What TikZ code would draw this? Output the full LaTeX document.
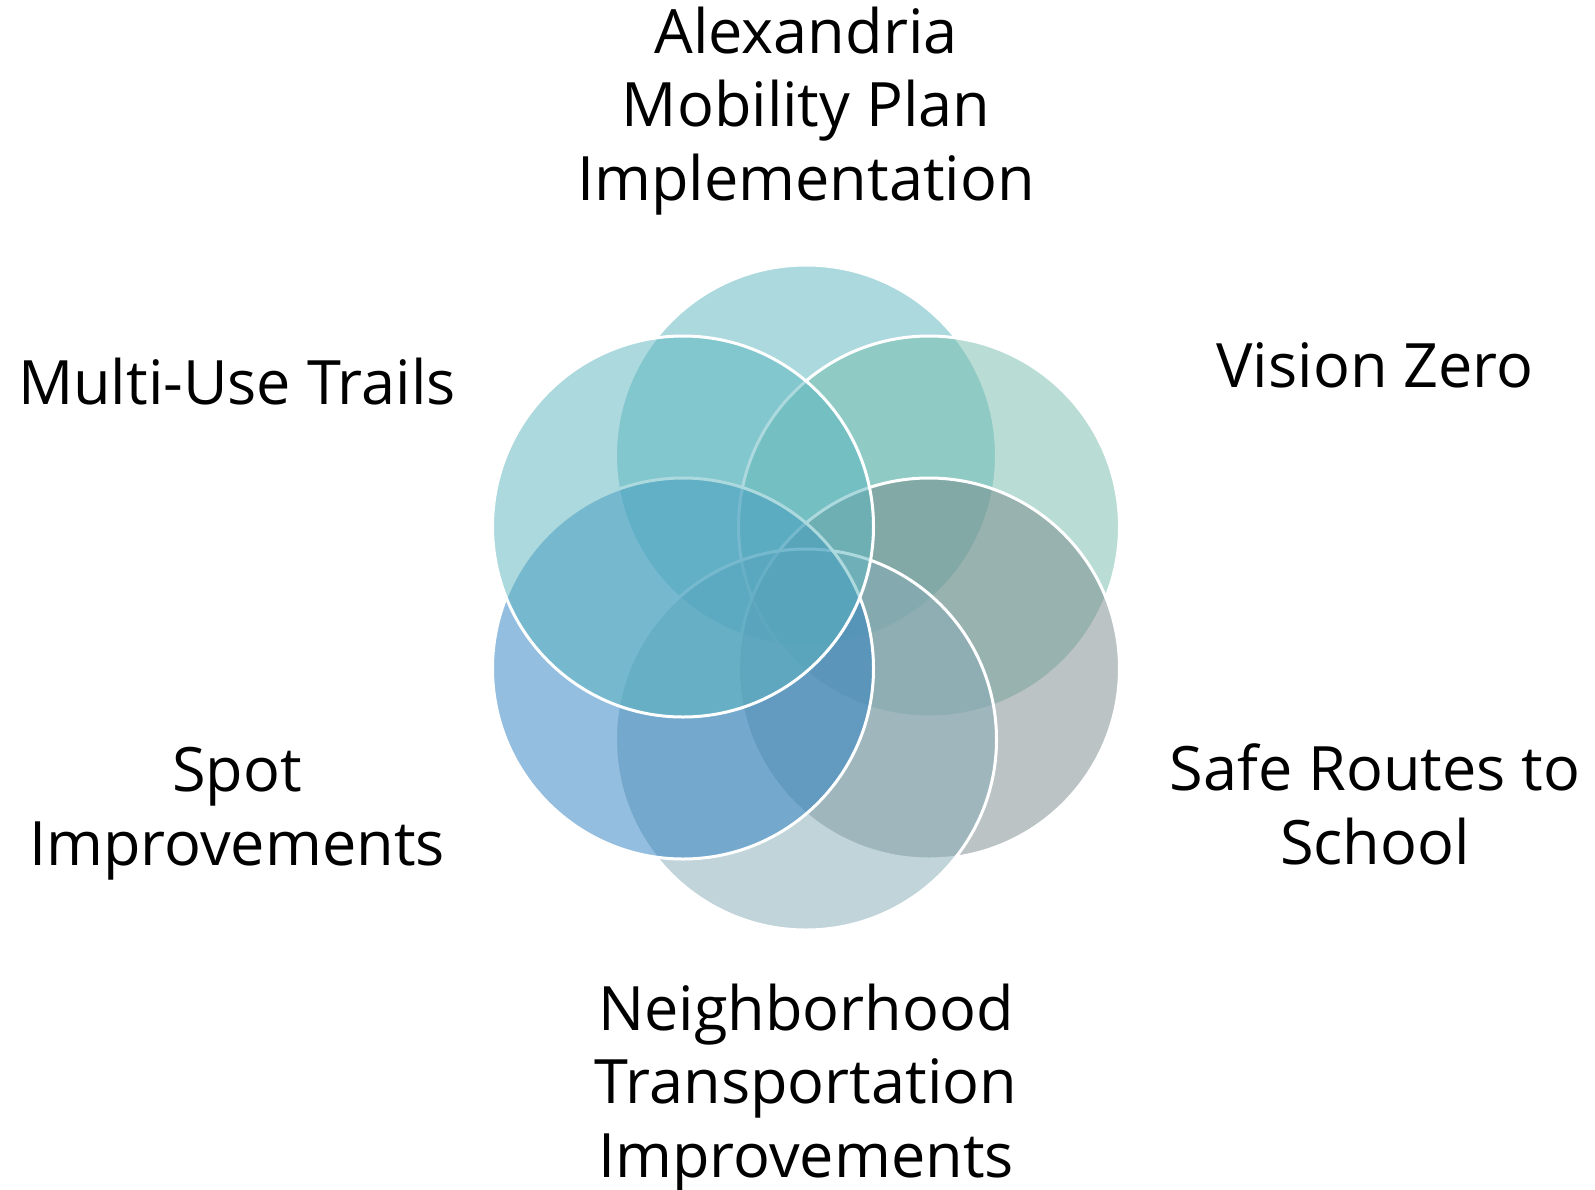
\documentclass[tikz,border=0pt]{standalone}
\usepackage{fontspec}
\setmainfont{Open Sans}
\definecolor{cTop}{RGB}{89,181,191}
\definecolor{cUR}{RGB}{117,189,171}
\definecolor{cLR}{RGB}{121,137,139}
\definecolor{cBot}{RGB}{133,171,183}
\definecolor{cLL}{RGB}{41,127,193}
\definecolor{cUL}{RGB}{91,181,191}
\tikzset{
  venn/.style={circle, inner sep=0pt, outer sep=0pt, minimum size=190.5pt,
    draw=white, line width=1.5pt, fill opacity=0.5, draw opacity=1},
  lbl/.style={align=center, inner sep=0pt, anchor=base, text=black,
    font=\fontsize{30.6}{36.6}\selectfont}
}
\begin{document}
\begin{tikzpicture}[x=0.5pt,y=-0.5pt]
\useasboundingbox[fill=white] (0,0) rectangle (1595,1189);
\node[venn, fill=cTop] (ctop) at (806,455.5) {};
\node[venn, fill=cUR]  (cur)  at (929,526.5) {};
\node[venn, fill=cLR]  (clr)  at (929,668.5) {};
\node[venn, fill=cBot] (cbot) at (806,739.5) {};
\node[venn, fill=cLL]  (cll)  at (683,668.5) {};
\node[venn, fill=cUL]  (cul)  at (683,526.5) {};
% multi-line labels are placed by the baseline of their last line
\node[lbl] (ttop) at (806,200) {Alexandria\\Mobility Plan\\Implementation};
\node[lbl] (tvz) at (1375,387) {Vision Zero};
\node[lbl] (tsr) at (1375,864) {Safe Routes to\\School};
\node[lbl] (tnb) at (806,1177) {Neighborhood\\Transportation\\Improvements};
\node[lbl] (tsp) at (237,865) {Spot\\Improvements};
\node[lbl] (tmu) at (237,404) {Multi-Use Trails};
\end{tikzpicture}
\end{document}
